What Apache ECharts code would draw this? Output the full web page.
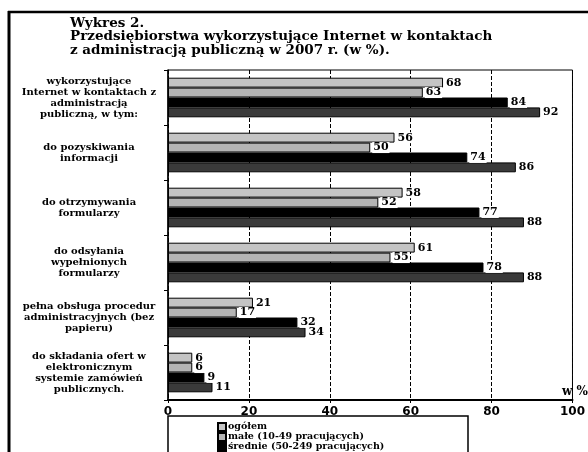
<!DOCTYPE html>
<html>
<head>
<meta charset="utf-8">
<script src="https://cdn.jsdelivr.net/npm/echarts@6/dist/echarts.min.js"></script>
<style>
html,body{margin:0;padding:0;background:#fff;}
#chart{width:588px;height:452px;}
</style>
</head>
<body>
<div id="chart"></div>
<script>
var categories = [
  'wykorzystujące\nInternet w kontaktach z\nadministracją\npubliczną, w tym:',
  'do pozyskiwania\ninformacji',
  'do otrzymywania\nformularzy',
  'do odsyłania\nwypełnionych\nformularzy',
  'pełna obsługa procedur\nadministracyjnych (bez\npapieru)',
  'do składania ofert w\nelektronicznym\nsystemie zamówień\npublicznych.'
];
var seriesNames = ['ogółem', 'małe (10-49 pracujących)', 'średnie (50-249 pracujących)', 'duże (250 i więcej pracujących)'];
var ogolem = [68, 56, 58, 61, 21, 6];
var male = [63, 50, 52, 55, 17, 6];
var srednie = [84, 74, 77, 78, 32, 9];
var duze = [92, 86, 88, 88, 34, 11];
var xTicks = [0, 20, 40, 60, 80, 100];

var serif = '"DejaVu Serif", "Liberation Serif", serif';
var colors = ['#c4c4c4', '#b4b4b4', '#000000', '#3a3a3a'];
var dataSets = [ogolem, male, srednie, duze];

var series = dataSets.map(function (d, i) {
  return {
    name: seriesNames[i],
    type: 'bar',
    data: d,
    barGap: '0%',
    barCategoryGap: '28%',
    itemStyle: { color: colors[i], borderColor: '#000', borderWidth: 1 },
    label: {
      show: true,
      position: 'right',
      distance: 2,
      color: '#000',
      fontFamily: serif,
      fontWeight: 'bold',
      fontSize: 11,
      backgroundColor: '#fff',
      padding: [0, 1, 0, 1]
    }
  };
});

var chart = echarts.init(document.getElementById('chart'), null, { renderer: 'canvas' });
chart.setOption({
  animation: false,
  backgroundColor: '#fff',
  grid: { left: 168, right: 15, top: 70, bottom: 52, show: true, borderColor: '#000', borderWidth: 1 },
  xAxis: {
    type: 'value',
    min: 0,
    max: 100,
    interval: 20,
    axisLine: { show: true, lineStyle: { color: '#000', width: 2 } },
    axisTick: { show: true, length: 3, lineStyle: { color: '#000' } },
    splitLine: { show: true, lineStyle: { color: '#000', type: 'dashed', width: 1 } },
    axisLabel: {
      color: '#000', fontFamily: '"DejaVu Sans", sans-serif', fontWeight: 'bold', fontSize: 12, margin: 6,
      formatter: function (v) { return xTicks.indexOf(v) >= 0 ? String(v) : ''; }
    }
  },
  yAxis: {
    type: 'category',
    inverse: true,
    data: categories,
    axisLine: { show: true, lineStyle: { color: '#000', width: 1.5 } },
    axisTick: { show: true, length: 4, lineStyle: { color: '#000' } },
    axisLabel: {
      align: 'center',
      margin: 79,
      color: '#000',
      fontFamily: serif,
      fontWeight: 'bold',
      fontSize: 10,
      lineHeight: 11
    }
  },
  legend: {
    data: seriesNames,
    orient: 'vertical',
    left: 217,
    top: 422,
    height: 80,
    itemWidth: 8,
    itemHeight: 8,
    itemGap: 0,
    padding: 0,
    icon: 'rect',
    textStyle: { color: '#000', fontFamily: serif, fontWeight: 'bold', fontSize: 9.5, lineHeight: 9, padding: [0, 0, 0, -3] }
  },
  graphic: [
    { type: 'rect', shape: { x: 168, y: 416, width: 300, height: 50 }, style: { fill: 'none', stroke: '#000', lineWidth: 1.5 }, z: 10 },
    { type: 'line', shape: { x1: 8, y1: 12, x2: 588, y2: 12 }, style: { stroke: '#000', lineWidth: 2.5 } },
    { type: 'line', shape: { x1: 9, y1: 11, x2: 9, y2: 452 }, style: { stroke: '#000', lineWidth: 3 } },
    { type: 'text', left: 70, top: 16, style: { text: 'Wykres 2.', font: 'bold 13.5px ' + serif, fill: '#000' } },
    { type: 'text', left: 70, top: 29, style: { text: 'Przedsiębiorstwa wykorzystujące Internet w kontaktach', font: 'bold 13.5px ' + serif, fill: '#000' } },
    { type: 'text', left: 70, top: 43, style: { text: 'z administracją publiczną w 2007 r. (w %).', font: 'bold 13.5px ' + serif, fill: '#000' } },
    { type: 'text', left: 562, top: 386, style: { text: 'w %', font: 'bold 12px ' + serif, fill: '#000' } }
  ],
  series: series
});
</script>
</body>
</html>
